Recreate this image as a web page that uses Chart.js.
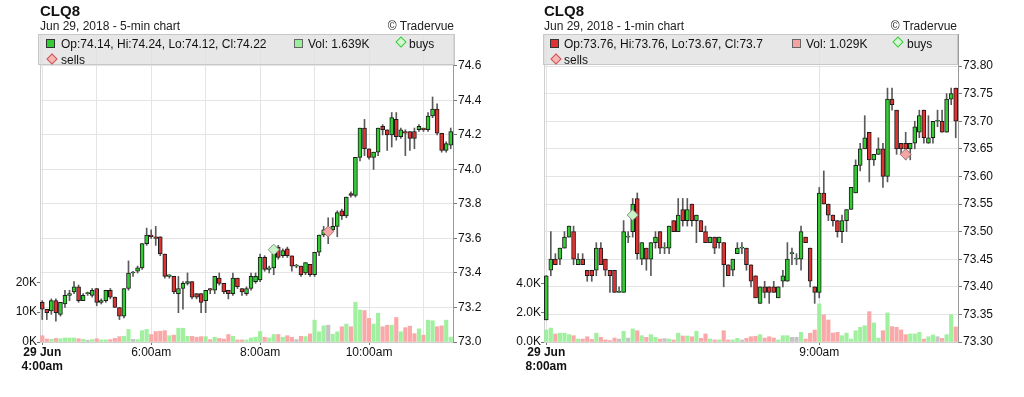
<!DOCTYPE html>
<html>
<head>
<meta charset="utf-8">
<script src="https://cdn.jsdelivr.net/npm/chart.js@4.4.1/dist/chart.umd.min.js"></script>
<style>
  body { margin: 0; background: #fff; font-family: "Liberation Sans", Arial, Helvetica, sans-serif; color: #111; }
  .panel { position: absolute; top: 0; width: 512px; height: 397px; }
  .panel canvas { position: absolute; left: 0; top: 0; }
  .title { position: absolute; top: 3px; font-size: 15px; line-height: 15px; font-weight: bold; }
  .sub { position: absolute; top: 19px; font-size: 12px; line-height: 14px; display: flex; justify-content: space-between; color: #222; }
  .legend { position: absolute; top: 34px; height: 31px; background: rgba(226,226,226,0.82); border: 1px solid #c8c8c8; box-sizing: border-box; font-size: 12px; }
  .legend .t { position: absolute; line-height: 14px; white-space: nowrap; }
  .legend .sq { position: absolute; width: 7px; height: 7px; border: 1px solid #333; }
  .legend .dia { position: absolute; width: 6px; height: 6px; transform: rotate(45deg); }
</style>
</head>
<body>
<div class="panel" style="left:0">
  <canvas id="c5" width="512" height="397"></canvas>
  <div class="title" style="left:40px">CLQ8</div>
  <div class="sub" style="left:40px;width:414px"><span>Jun 29, 2018 - 5-min chart</span><span>© Tradervue</span></div>
  <div class="legend" style="left:38px;width:417px">
    <div class="sq" style="left:7px;top:4px;background:#33cc33"></div>
    <div class="t" id="ohlc5" style="left:22px;top:2px"></div>
    <div class="sq" style="left:255px;top:4px;background:#9bee9b;border-color:#666"></div>
    <div class="t" id="vol5" style="left:269px;top:2px"></div>
    <div class="dia" style="left:358px;top:3px;background:#d6f7d6;border:1px solid #3c3"></div>
    <div class="t" style="left:370px;top:2px">buys</div>
    <div class="dia" style="left:9px;top:20px;background:#f6b6b6;border:1px solid #c55"></div>
    <div class="t" style="left:22px;top:18px">sells</div>
  </div>
</div>
<div class="panel" style="left:512px">
  <canvas id="c1" width="512" height="397"></canvas>
  <div class="title" style="left:32px">CLQ8</div>
  <div class="sub" style="left:32px;width:413px"><span>Jun 29, 2018 - 1-min chart</span><span>© Tradervue</span></div>
  <div class="legend" style="left:31px;width:415px">
    <div class="sq" style="left:6px;top:4px;background:#dd3333"></div>
    <div class="t" id="ohlc1" style="left:20px;top:2px"></div>
    <div class="sq" style="left:248px;top:4px;background:#f4a3a3;border-color:#666"></div>
    <div class="t" id="vol1" style="left:262px;top:2px"></div>
    <div class="dia" style="left:350px;top:3px;background:#d6f7d6;border:1px solid #3c3"></div>
    <div class="t" style="left:363px;top:2px">buys</div>
    <div class="dia" style="left:8px;top:20px;background:#f6b6b6;border:1px solid #c55"></div>
    <div class="t" style="left:20px;top:18px">sells</div>
  </div>
</div>
<script>
// 5-min chart, 4:00am - 11:30am
var fiveOpen  = [73.23,73.19,73.18,73.24,73.16,73.22,73.27,73.29,73.32,73.24,73.28,73.27,73.31,73.23,73.24,73.30,73.26,73.20,73.15,73.31,
                 73.40,73.41,73.43,73.57,73.62,73.61,73.61,73.51,73.38,73.38,73.28,73.31,73.34,73.35,73.28,73.28,73.24,73.31,73.30,73.37,
                 73.34,73.30,73.28,73.37,73.31,73.28,73.31,73.35,73.36,73.49,73.42,73.43,73.55,73.50,73.54,73.50,73.44,73.44,73.40,73.45,
                 73.39,73.52,73.62,73.65,73.65,73.67,73.76,73.73,73.86,73.85,74.07,74.24,74.12,74.07,74.10,74.25,74.23,74.20,74.29,74.19,
                 74.22,74.22,74.22,74.23,74.24,74.23,74.31,74.35,74.21,74.11,74.14];
var fiveHigh  = [73.24,73.19,73.25,73.25,73.23,73.30,73.30,73.35,73.33,73.28,73.29,73.31,73.31,73.25,73.30,73.31,73.26,73.20,73.31,73.47,
                 73.41,73.44,73.57,73.66,73.65,73.67,73.61,73.51,73.39,73.38,73.38,73.35,73.40,73.35,73.28,73.28,73.30,73.31,73.38,73.40,
                 73.34,73.30,73.40,73.37,73.31,73.32,73.40,73.40,73.51,73.50,73.44,73.53,73.56,73.54,73.55,73.50,73.45,73.44,73.46,73.45,
                 73.52,73.62,73.67,73.72,73.72,73.76,73.77,73.84,73.87,74.07,74.24,74.29,74.12,74.10,74.24,74.26,74.23,74.33,74.33,74.24,
                 74.23,74.22,74.24,74.26,74.24,74.33,74.42,74.38,74.21,74.16,74.24];
var fiveLow   = [73.13,73.13,73.16,73.12,73.15,73.20,73.24,73.28,73.23,73.24,73.27,73.26,73.21,73.22,73.23,73.25,73.20,73.13,73.14,73.30,
                 73.38,73.40,73.42,73.56,73.60,73.56,73.50,73.37,73.37,73.28,73.17,73.19,73.33,73.25,73.25,73.17,73.17,73.28,73.28,73.33,
                 73.28,73.25,73.27,73.31,73.27,73.27,73.30,73.34,73.35,73.41,73.40,73.39,73.48,73.49,73.49,73.41,73.43,73.38,73.39,73.38,
                 73.38,73.50,73.61,73.57,73.64,73.61,73.71,73.72,73.84,73.84,74.05,74.08,74.06,74.00,74.08,74.20,74.11,74.13,74.17,74.18,
                 74.08,74.11,74.12,74.22,74.22,74.22,74.30,74.20,74.10,74.10,74.12];
var fiveClose = [73.19,73.17,73.24,73.17,73.23,73.27,73.28,73.32,73.24,73.27,73.28,73.30,73.23,73.24,73.30,73.26,73.20,73.15,73.31,73.40,
                 73.40,73.43,73.57,73.62,73.61,73.60,73.51,73.38,73.39,73.29,73.31,73.34,73.35,73.26,73.26,73.23,73.30,73.30,73.38,73.34,
                 73.29,73.28,73.37,73.32,73.29,73.31,73.38,73.38,73.49,73.42,73.43,73.51,73.49,73.53,73.50,73.44,73.44,73.39,73.46,73.39,
                 73.52,73.62,73.65,73.65,73.67,73.75,73.73,73.84,73.85,74.07,74.24,74.12,74.07,74.10,74.24,74.23,74.20,74.30,74.19,74.23,
                 74.21,74.18,74.18,74.25,74.23,74.31,74.35,74.21,74.11,74.15,74.22];
var fiveVolK  = [2.1,1.0,0.9,1.2,1.1,1.35,1.35,1.35,1.1,0.9,0.6,0.8,1.1,0.7,0.7,0.8,1.2,1.8,1.9,4.2,
                 0.9,0.8,3.8,4.2,2.5,3.5,3.6,3.8,2.1,2.3,4.6,4.6,1.9,1.9,1.6,1.8,1.8,0.8,1.6,1.2,
                 1.0,2.5,1.9,0.7,0.7,0.7,1.35,1.6,3.5,1.6,1.35,2.5,2.5,1.6,2.1,1.6,0.8,1.9,1.8,2.7,
                 7.3,3.4,5.4,5.6,2.6,3.4,5.1,6.0,5.1,13.3,10.7,10.5,7.9,6.0,9.6,5.1,5.6,5.6,8.2,3.4,
                 4.8,5.3,2.8,4.4,2.3,7.3,7.1,5.1,5.4,7.3,1.639];
var fiveBuys  = [{bar: 51, price: 73.535}];
var fiveSells = [{bar: 63, price: 73.64}];
var fivePriceTicks = [73.0,73.2,73.4,73.6,73.8,74.0,74.2,74.4,74.6];
var fiveVolTicks = [0,10,20];
var fiveTickLabels = {'4:00': ['29 Jun','4:00am'], '6:00': '6:00am', '8:00': '8:00am', '10:00': '10:00am'};
var fiveGridTimes = ['4:00','5:00','6:00','7:00','8:00','9:00','10:00','11:00'];

// 1-min chart, 8:00am - 9:30am
var oneOpen  = [73.34,73.43,73.45,73.45,73.47,73.49,73.50,73.44,73.45,73.43,73.43,73.43,73.47,73.45,73.43,73.43,73.39,73.39,73.49,73.50,
                73.56,73.45,73.47,73.45,73.48,73.50,73.47,73.47,73.52,73.50,73.54,73.52,73.55,73.52,73.52,73.50,73.48,73.49,73.48,73.48,
                73.44,73.43,73.46,73.47,73.47,73.44,73.42,73.37,73.40,73.40,73.40,73.38,73.41,73.41,73.46,73.45,73.45,73.49,73.47,73.40,
                73.39,73.57,73.55,73.53,73.52,73.50,73.52,73.54,73.57,73.62,73.65,73.68,73.63,73.64,73.65,73.60,73.74,73.72,73.66,73.66,
                73.65,73.66,73.68,73.72,73.66,73.67,73.70,73.70,73.68,73.74,73.76];
var oneHigh  = [73.42,73.50,73.46,73.47,73.50,73.51,73.51,73.46,73.46,73.43,73.43,73.48,73.48,73.45,73.43,73.43,73.40,73.52,73.50,73.56,
                73.57,73.48,73.47,73.48,73.50,73.50,73.48,73.51,73.52,73.56,73.56,73.56,73.55,73.53,73.52,73.51,73.49,73.49,73.49,73.48,
                73.44,73.45,73.48,73.48,73.47,73.44,73.42,73.40,73.41,73.40,73.41,73.40,73.43,73.48,73.47,73.46,73.51,73.49,73.47,73.40,
                73.58,73.61,73.55,73.53,73.52,73.53,73.54,73.58,73.63,73.66,73.71,73.68,73.64,73.67,73.66,73.76,73.76,73.72,73.66,73.68,
                73.66,73.70,73.72,73.72,73.71,73.70,73.72,73.72,73.75,73.76,73.76];
var oneLow   = [73.34,73.42,73.44,73.44,73.47,73.49,73.44,73.44,73.44,73.41,73.41,73.42,73.44,73.42,73.39,73.39,73.39,73.39,73.48,73.49,
                73.45,73.44,73.43,73.42,73.47,73.46,73.46,73.46,73.50,73.50,73.51,73.51,73.51,73.48,73.50,73.48,73.48,73.46,73.47,73.40,
                73.42,73.42,73.46,73.46,73.43,73.40,73.38,73.37,73.38,73.37,73.39,73.38,73.40,73.41,73.44,73.44,73.43,73.48,73.40,73.37,
                73.38,73.55,73.52,73.51,73.49,73.48,73.50,73.54,73.57,73.61,73.65,73.59,73.62,73.64,73.58,73.59,73.72,73.64,73.64,73.63,
                73.63,73.65,73.67,73.66,73.66,73.66,73.69,73.68,73.68,73.73,73.67];
var oneClose = [73.42,73.45,73.44,73.47,73.49,73.51,73.45,73.45,73.44,73.42,73.42,73.47,73.44,73.43,73.42,73.39,73.39,73.50,73.49,73.55,
                73.46,73.48,73.45,73.48,73.49,73.47,73.47,73.51,73.50,73.53,73.52,73.54,73.52,73.53,73.50,73.48,73.49,73.47,73.49,73.44,
                73.42,73.45,73.47,73.47,73.44,73.41,73.38,73.40,73.39,73.39,73.39,73.40,73.42,73.45,73.46,73.45,73.50,73.48,73.41,73.39,
                73.57,73.55,73.53,73.52,73.50,73.52,73.54,73.58,73.62,73.65,73.67,73.63,73.64,73.65,73.60,73.74,73.73,73.65,73.65,73.65,
                73.66,73.69,73.71,73.67,73.67,73.70,73.70,73.68,73.74,73.75,73.7];
var oneVolK  = [0.82,0.95,0.55,0.6,0.6,0.5,0.43,0.2,0.2,0.36,0.18,0.6,0.32,0.14,0.1,0.27,0.2,0.73,0.27,0.89,
                0.77,0.43,0.32,0.5,0.32,0.2,0.23,0.2,0.14,0.6,0.41,0.41,0.36,0.73,0.25,0.55,0.2,0.14,0.14,0.77,
                0.14,0.14,0.25,0.14,0.25,0.36,0.39,0.5,0.27,0.36,0.27,0.14,0.43,0.43,0.32,0.32,0.66,0.2,0.6,0.82,
                2.6,1.84,1.5,0.61,0.66,0.43,0.61,0.2,0.77,1.0,1.11,2.07,1.3,0.27,0.77,1.98,1.05,1.0,0.82,0.5,
                0.55,0.55,0.66,0.2,0.36,0.48,0.36,0.25,0.5,1.86,1.029];
var oneBuys  = [{bar: 19, price: 73.53}];
var oneSells = [{bar: 79, price: 73.64}];
var onePriceTicks = [73.30,73.35,73.40,73.45,73.50,73.55,73.60,73.65,73.70,73.75,73.80];
var oneVolTicks = [0,2,4];
var oneTickLabels = {'8:00': ['29 Jun','8:00am'], '9:00': '9:00am'};
var oneGridTimes = ['8:00','9:00'];

var FONT = '"Liberation Sans", Arial, Helvetica, sans-serif';
Chart.defaults.font.family = FONT;
Chart.defaults.font.size = 12;
Chart.defaults.color = '#111';

function timeLabels(startMin, step, n) {
    var out = [];
    for (var i = 0; i < n; i++) {
        var m = startMin + i * step;
        var mm = m % 60;
        out.push(Math.floor(m / 60) + ':' + (mm < 10 ? '0' : '') + mm);
    }
    return out;
}

function candleColor(o, c, up, down, flat) {
    return c > o ? up : (c < o ? down : flat);
}

function makeChart(id, d) {
    var labels = timeLabels(d.start, d.step, d.open.length);
    var bodyColors = d.open.map(function(o, i) { return candleColor(o, d.close[i], '#33cc33', '#dd3333', '#33cc33'); });
    var volColors = d.open.map(function(o, i) { return candleColor(o, d.close[i], 'rgba(150,238,150,0.9)', 'rgba(248,160,160,0.9)', 'rgba(190,190,190,0.9)'); });

    new Chart(document.getElementById(id).getContext('2d'), {
        type: 'bar',
        data: {
            labels: labels,
            datasets: [
                {
                    type: 'line', data: d.buys.map(function(b) { return {x: labels[b.bar], y: b.price}; }),
                    showLine: false, pointStyle: 'rectRot', pointRadius: 5.5,
                    pointBackgroundColor: '#c9f3c9', pointBorderColor: '#7a9a7a', pointBorderWidth: 1,
                    yAxisID: 'price', order: 0
                },
                {
                    type: 'line', data: d.sells.map(function(b) { return {x: labels[b.bar], y: b.price}; }),
                    showLine: false, pointStyle: 'rectRot', pointRadius: 5.5,
                    pointBackgroundColor: '#f4a6a6', pointBorderColor: '#a07070', pointBorderWidth: 1,
                    yAxisID: 'price', order: 0
                },
                {
                    data: d.open.map(function(o, i) { return [o, d.close[i]]; }),
                    backgroundColor: bodyColors, borderColor: '#1c1c1c', borderWidth: 1, borderSkipped: false,
                    barThickness: 4, minBarLength: 1, grouped: false, yAxisID: 'price', order: 1
                },
                {
                    data: d.low.map(function(l, i) { return [l, d.high[i]]; }),
                    backgroundColor: '#5a5a5a', barThickness: 1, grouped: false, yAxisID: 'price', order: 2
                },
                {
                    data: d.vol, backgroundColor: volColors, barThickness: 3.5,
                    grouped: false, yAxisID: 'vol', order: 3
                }
            ]
        },
        options: {
            responsive: false,
            animation: false,
            devicePixelRatio: 1,
            layout: { padding: { top: 34, left: 0, right: 0, bottom: 0 } },
            plugins: { legend: { display: false }, tooltip: { enabled: false } },
            scales: {
                x: {
                    type: 'category',
                    offset: true,
                    grid: {
                        offset: false,
                        color: function(ctx) { return d.gridTimes.indexOf(labels[ctx.index]) >= 0 ? '#e4e4e4' : 'rgba(0,0,0,0)'; },
                        tickColor: function(ctx) { return d.tickLabels[labels[ctx.index]] ? '#777' : 'rgba(0,0,0,0)'; },
                        tickLength: 3
                    },
                    border: { color: '#cfcfcf' },
                    ticks: {
                        autoSkip: false, maxRotation: 0, minRotation: 0, padding: 0, color: '#111',
                        font: function(ctx) { return {family: FONT, size: 12, lineHeight: 1.2, weight: ctx.index === 0 ? 'bold' : 'normal'}; },
                        callback: function(v, i) { return d.tickLabels[labels[i]] || ''; }
                    },
                    afterFit: function(s) { s.height = 55; }
                },
                price: {
                    type: 'linear', position: 'right',
                    min: d.priceMin, max: d.priceMax,
                    grid: { color: '#e4e4e4', tickColor: '#777', tickLength: 4 },
                    border: { color: '#9a9a9a' },
                    afterBuildTicks: function(s) { s.ticks = d.priceTicks.map(function(v) { return {value: v}; }); },
                    ticks: { padding: 1, color: '#111', callback: function(v) { return v.toFixed(d.decimals); } },
                    afterFit: function(s) { s.width = d.rightW; }
                },
                vol: {
                    type: 'linear', position: 'left',
                    min: 0, max: d.volMax,
                    grid: { drawOnChartArea: false, tickColor: '#777', tickLength: 3 },
                    border: { color: '#cfcfcf' },
                    afterBuildTicks: function(s) { s.ticks = d.volTicks.map(function(v) { return {value: v}; }); },
                    ticks: { padding: 0, color: '#111', callback: function(v) { return v.toFixed(d.volDecimals) + 'K'; } },
                    afterFit: function(s) { s.width = d.leftW; }
                }
            }
        }
    });

    var n = d.open.length - 1;
    document.getElementById(d.ohlcId).textContent =
        'Op:' + d.open[n] + ', Hi:' + d.high[n] + ', Lo:' + d.low[n] + ', Cl:' + d.close[n];
    document.getElementById(d.volId).textContent = 'Vol: ' + d.vol[n] + 'K';
}

makeChart('c5', {
    open: fiveOpen, high: fiveHigh, low: fiveLow, close: fiveClose, vol: fiveVolK,
    buys: fiveBuys, sells: fiveSells, start: 240, step: 5,
    priceTicks: fivePriceTicks, priceMin: 73.0, priceMax: 74.785, decimals: 1,
    volTicks: fiveVolTicks, volMax: 103, volDecimals: 0,
    tickLabels: fiveTickLabels, gridTimes: fiveGridTimes,
    leftW: 40, rightW: 59, ohlcId: 'ohlc5', volId: 'vol5'
});

makeChart('c1', {
    open: oneOpen, high: oneHigh, low: oneLow, close: oneClose, vol: oneVolK,
    buys: oneBuys, sells: oneSells, start: 480, step: 1,
    priceTicks: onePriceTicks, priceMin: 73.30, priceMax: 73.858, decimals: 2,
    volTicks: oneVolTicks, volMax: 21.0, volDecimals: 1,
    tickLabels: oneTickLabels, gridTimes: oneGridTimes,
    leftW: 32, rightW: 66, ohlcId: 'ohlc1', volId: 'vol1'
});
</script>
</body>
</html>
